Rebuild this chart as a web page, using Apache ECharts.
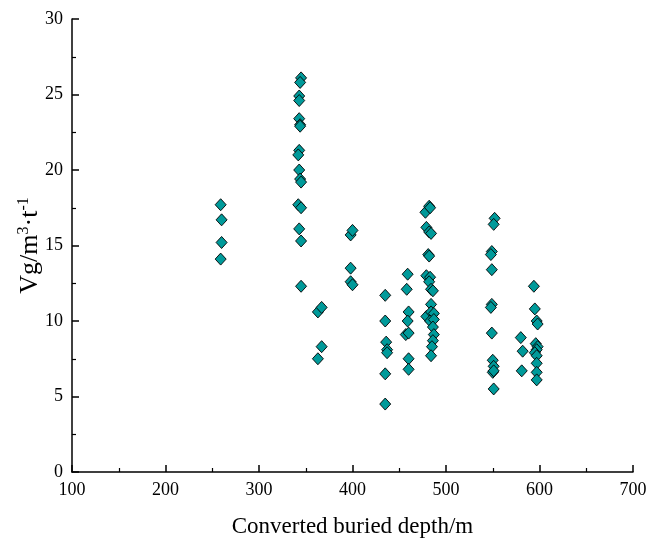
<!DOCTYPE html>
<html>
<head>
<meta charset="utf-8">
<script src="https://cdn.jsdelivr.net/npm/echarts@6/dist/echarts.min.js"></script>
<style>html,body{margin:0;padding:0;background:#fff}#c{width:651px;height:538px}</style>
</head>
<body>
<div id="c"></div>
<script>
var depth = [
  259,260,260,259,
  345,344,343,343,343,344,344,343,342,343,344,345,342,345,343,345,345,
  363,367,363,367,
  398,400,398,398,400,
  435,435,436,437,437,435,435,
  459,458,460,459,457,460,460,460,
  478,482,483,479,482,484,481,482,479,483,482,484,486,484,479,484,487,483,487,486,487,486,485,484,
  552,551,549,548,549,549,548,549,550,551,550,551,551,
  594,595,597,598,596,598,597,595,597,597,597,597,
  580,582,581
];
var gas = [
  17.7,16.7,15.2,14.1,
  26.1,25.8,24.9,24.6,23.4,23.0,22.9,21.3,21.0,20.0,19.4,19.2,17.7,17.5,16.1,15.3,12.3,
  10.6,10.9,7.5,8.3,
  15.7,16.0,13.5,12.6,12.4,
  11.7,10.0,8.6,8.1,7.9,6.5,4.5,
  13.1,12.1,10.6,10.0,9.1,9.2,7.5,6.8,
  17.2,17.6,17.5,16.2,15.9,15.8,14.4,14.3,13.0,12.9,12.6,12.1,12.0,11.1,10.3,10.6,10.5,10.0,10.1,9.6,9.1,8.7,8.3,7.7,
  16.8,16.4,14.6,14.4,13.4,11.1,10.9,9.2,7.4,7.0,6.6,5.5,6.7,
  12.3,10.8,10.0,9.8,8.5,8.3,8.1,7.9,7.7,7.2,6.6,6.1,
  8.9,8.0,6.7
];
var xTicks = [100,200,300,400,500,600,700];
var yTicks = [0,5,10,15,20,25,30];

var pts = depth.map(function(d,i){return [d, gas[i]];});
var font = 'Liberation Serif';
var chart = echarts.init(document.getElementById('c'), null, {renderer:'canvas'});
chart.setOption({
  animation:false,
  backgroundColor:'#fff',
  grid:{left:72,right:18,top:19,bottom:66,containLabel:false,outerBoundsMode:'none'},
  xAxis:{
    type:'value', min:xTicks[0], max:xTicks[xTicks.length-1], interval:100,
    name:'Converted buried depth/m', nameLocation:'middle', nameGap:43, nameMoveOverlap:false,
    nameTextStyle:{fontFamily:font,fontSize:23,color:'#000'},
    axisLine:{show:true,onZero:false,lineStyle:{color:'#000',width:1.5}},
    axisTick:{show:true,inside:true,length:7,lineStyle:{color:'#000',width:1.5}},
    minorTick:{show:true,splitNumber:2,length:4,lineStyle:{color:'#000',width:1.2}},
    splitLine:{show:false},
    axisLabel:{fontFamily:font,fontSize:18,color:'#000',margin:9}
  },
  yAxis:{
    type:'value', min:yTicks[0], max:yTicks[yTicks.length-1], interval:5,
    name:'{n|Vg/m}{s|3}{n|·t}{s|-1}', nameLocation:'middle', nameGap:28, nameRotate:90, nameMoveOverlap:false,
    nameTextStyle:{fontFamily:font,fontSize:26,color:'#000',
      rich:{n:{fontFamily:font,fontSize:26,color:'#000'},
            s:{fontFamily:font,fontSize:16,color:'#000',padding:[0,0,12,0]}}},
    axisLine:{show:true,onZero:false,lineStyle:{color:'#000',width:1.5}},
    axisTick:{show:true,inside:true,length:7,lineStyle:{color:'#000',width:1.5}},
    minorTick:{show:true,splitNumber:2,length:4,lineStyle:{color:'#000',width:1.2}},
    splitLine:{show:false},
    axisLabel:{fontFamily:font,fontSize:18,color:'#000',margin:9}
  },
  series:[{
    type:'scatter',
    data:pts,
    symbol:'diamond',
    symbolSize:[11,12],
    itemStyle:{color:'#009a9a',borderColor:'#000',borderWidth:0.9,opacity:1}
  }]
});
</script>
</body>
</html>
